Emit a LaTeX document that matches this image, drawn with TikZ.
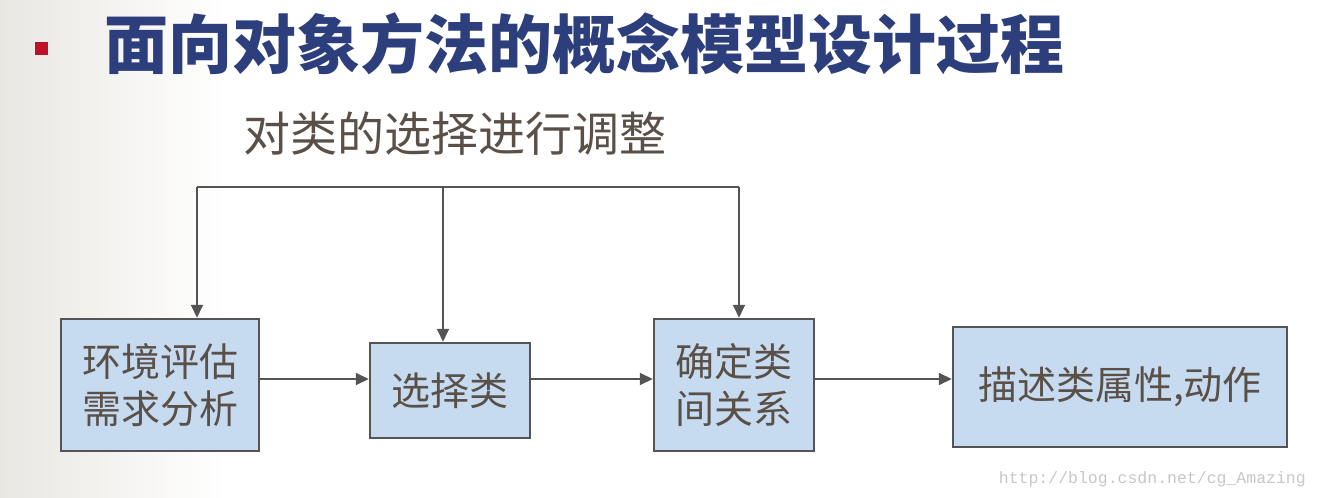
\documentclass[tikz,border=0pt]{standalone}
\usepackage{fontspec}
\newfontfamily\cjk{Noto Sans CJK SC}
\newfontfamily\monofont{Liberation Mono}
\usetikzlibrary{arrows.meta}
\definecolor{boxfill}{HTML}{C6DBF0}
\definecolor{boxline}{HTML}{555353}
\definecolor{txt}{HTML}{5A5048}
\definecolor{titleblue}{HTML}{2C3E7C}
\definecolor{bulletred}{HTML}{BE1128}
\definecolor{edgegray}{HTML}{E2DFD8}
\tikzset{
  procbox/.style={draw=boxline, line width=2.5pt, fill=boxfill, text=txt,
    font=\cjk\fontsize{39}{47}\selectfont, align=center, inner sep=0pt},
  conn/.style={draw=boxline, line width=2pt},
  arr/.style={conn, -{Triangle[length=13pt,width=12pt]}}
}
\begin{document}
\begin{tikzpicture}[x=1pt,y=-1pt]
\useasboundingbox (0,0) rectangle (1318,498);
\begin{scope}
\clip (0,0) rectangle (1318,498);
\shade[left color=edgegray, right color=white] (-75,0) rectangle (225,498);
\end{scope}
% bullet
\node[fill=bulletred, minimum size=13pt, inner sep=0pt] (bullet) at (41,48.5) {};
% title
\node[anchor=west, text=titleblue, font=\cjk\bfseries\fontsize{64}{70}\selectfont, inner sep=0pt] (title) at (104,44) {面向对象方法的概念模型设计过程};
% subtitle
\node[text=txt, font=\cjk\fontsize{47}{52}\selectfont, inner sep=0pt] (sub) at (455,134) {对类的选择进行调整};
% boxes
\node[procbox, minimum width=198pt, minimum height=132pt] (b1) at (160,385) {环境评估\\需求分析};
\node[procbox, minimum width=160pt, minimum height=95pt] (b2) at (450,390.5) {选择类};
\node[procbox, minimum width=160pt, minimum height=132pt] (b3) at (734,385) {确定类\\间关系};
\node[procbox, minimum width=334pt, minimum height=120pt] (b4) at (1120,387) {描述类属性,动作};
% top connectors
\coordinate (t1) at (197,187);
\coordinate (t2) at (443,187);
\coordinate (t3) at (739,187);
\coordinate (h) at (0,379);
\draw[conn] (t1) -- (t3);
\draw[arr] (t1) -- (t1 |- b1.north);
\draw[arr] (t2) -- (t2 |- b2.north);
\draw[arr] (t3) -- (t3 |- b3.north);
% flow arrows
\draw[arr] (b1.east |- h) -- (b2.west |- h);
\draw[arr] (b2.east |- h) -- (b3.west |- h);
\draw[arr] (b3.east |- h) -- (b4.west |- h);
% watermark
\node[anchor=east, text=black!22, font=\monofont\fontsize{16.5}{18}\selectfont, inner sep=0pt] (wm) at (1306,479) {http://blog.csdn.net/cg\_Amazing};
\end{tikzpicture}
\end{document}
